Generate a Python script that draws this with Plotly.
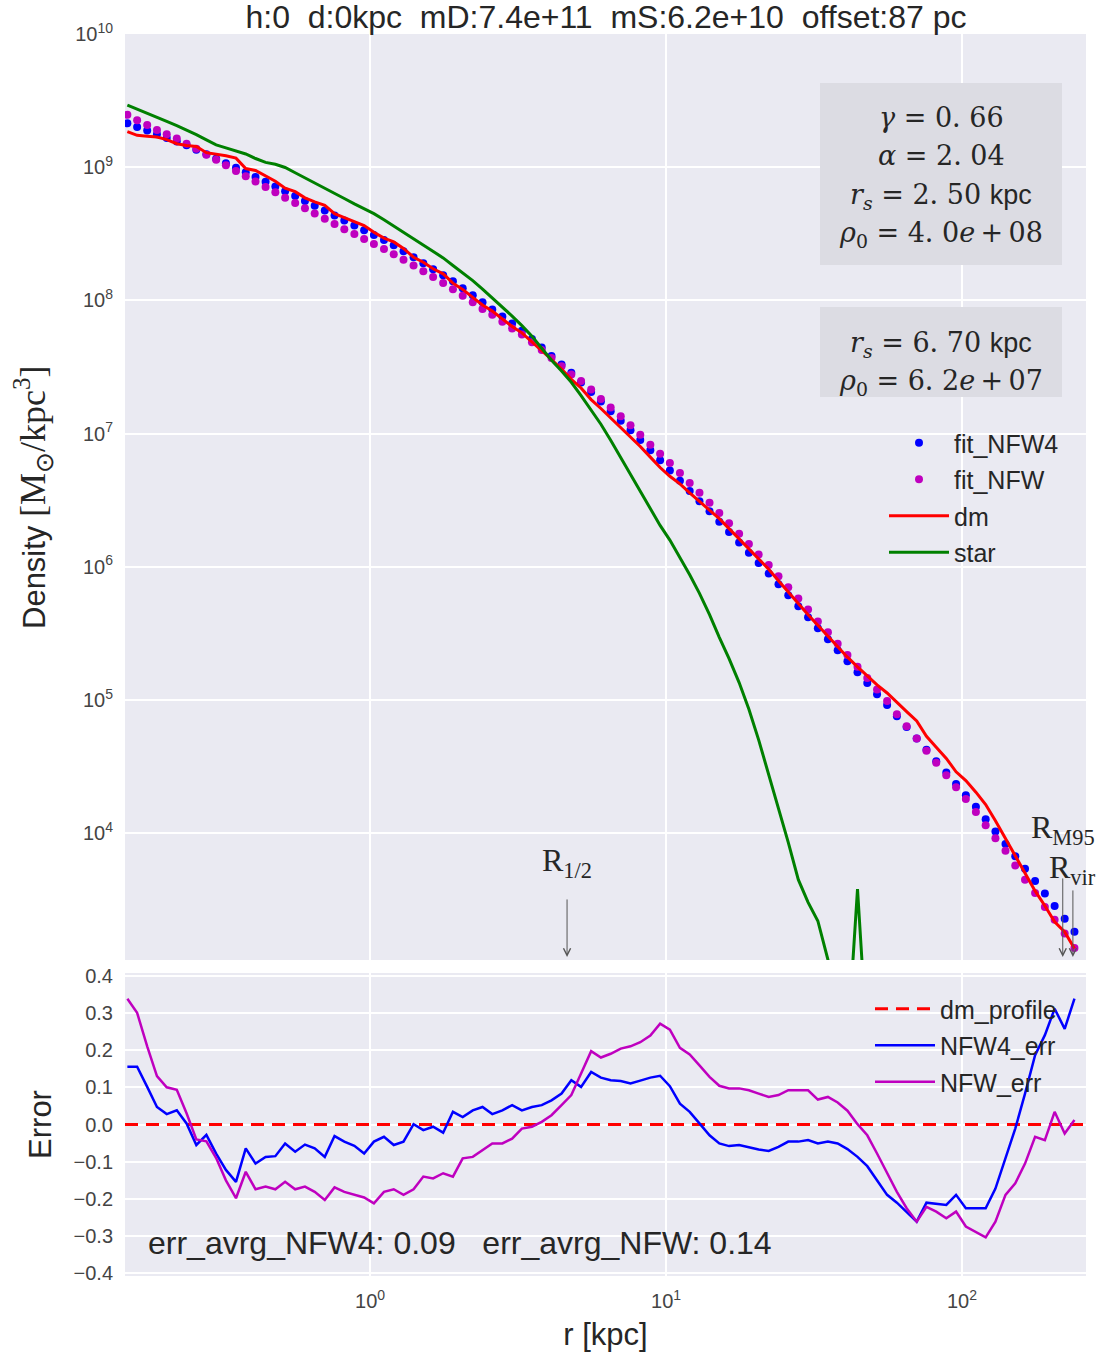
import math
import plotly.graph_objects as go
from plotly.subplots import make_subplots

# ---------------- data ----------------
# log10 of radius [kpc] of each bin
log_r = [
    -0.820, -0.787, -0.753, -0.720, -0.687, -0.653, -0.620, -0.587, -0.553, -0.520,
    -0.487, -0.453, -0.420, -0.387, -0.353, -0.320, -0.287, -0.253, -0.220, -0.187,
    -0.153, -0.120, -0.087, -0.053, -0.020, 0.013, 0.047, 0.080, 0.113, 0.147,
    0.180, 0.213, 0.247, 0.280, 0.313, 0.347, 0.380, 0.413, 0.447, 0.480,
    0.513, 0.547, 0.580, 0.613, 0.647, 0.680, 0.713, 0.747, 0.780, 0.813,
    0.847, 0.880, 0.913, 0.947, 0.980, 1.013, 1.047, 1.080, 1.113, 1.147,
    1.180, 1.213, 1.247, 1.280, 1.313, 1.347, 1.380, 1.413, 1.447, 1.480,
    1.513, 1.547, 1.580, 1.613, 1.647, 1.680, 1.713, 1.747, 1.780, 1.813,
    1.847, 1.880, 1.913, 1.947, 1.980, 2.013, 2.047, 2.080, 2.113, 2.147,
    2.180, 2.213, 2.247, 2.280, 2.313, 2.347, 2.380,
]

# log10 density [Msun/kpc^3]
log_fit_nfw4 = [
    9.330, 9.302, 9.275, 9.247, 9.219, 9.192, 9.164, 9.131, 9.097, 9.063,
    9.029, 8.995, 8.961, 8.927, 8.891, 8.855, 8.819, 8.783, 8.746, 8.710,
    8.674, 8.637, 8.600, 8.563, 8.527, 8.490, 8.453, 8.414, 8.369, 8.324,
    8.279, 8.234, 8.189, 8.144, 8.091, 8.038, 7.985, 7.932, 7.879, 7.826,
    7.772, 7.709, 7.646, 7.583, 7.519, 7.456, 7.384, 7.312, 7.240, 7.168,
    7.096, 7.024, 6.952, 6.875, 6.799, 6.722, 6.646, 6.569, 6.492, 6.416,
    6.338, 6.260, 6.182, 6.105, 6.027, 5.949, 5.868, 5.786, 5.703, 5.621,
    5.538, 5.456, 5.373, 5.291, 5.208, 5.126, 5.043, 4.961, 4.878, 4.796,
    4.711, 4.625, 4.540, 4.455, 4.369, 4.284, 4.197, 4.104, 4.011, 3.918,
    3.826, 3.733, 3.640, 3.547, 3.452, 3.356, 3.260,
]

log_fit_nfw = [
    9.394, 9.353, 9.316, 9.280, 9.248, 9.215, 9.176, 9.138, 9.093, 9.055,
    9.015, 8.972, 8.931, 8.892, 8.852, 8.811, 8.770, 8.731, 8.691, 8.652,
    8.613, 8.573, 8.534, 8.498, 8.460, 8.423, 8.386, 8.347, 8.305, 8.262,
    8.219, 8.175, 8.130, 8.083, 8.035, 7.985, 7.936, 7.892, 7.840, 7.789,
    7.743, 7.686, 7.627, 7.567, 7.506, 7.443, 7.395, 7.330, 7.260, 7.195,
    7.129, 7.062, 6.990, 6.916, 6.849, 6.778, 6.703, 6.629, 6.555, 6.481,
    6.404, 6.326, 6.247, 6.171, 6.092, 6.012, 5.928, 5.845, 5.762, 5.678,
    5.589, 5.508, 5.421, 5.337, 5.248, 5.165, 5.078, 4.991, 4.893, 4.802,
    4.711, 4.618, 4.528, 4.435, 4.344, 4.255, 4.159, 4.058, 3.962, 3.867,
    3.756, 3.650, 3.551, 3.445, 3.349, 3.246, 3.138,
]

log_dm = [
    9.267, 9.239, 9.233, 9.227, 9.207, 9.176, 9.163, 9.156, 9.109, 9.098,
    9.086, 9.068, 8.990, 8.975, 8.931, 8.894, 8.842, 8.816, 8.770, 8.739,
    8.714, 8.651, 8.621, 8.589, 8.562, 8.511, 8.468, 8.439, 8.390, 8.324,
    8.286, 8.237, 8.199, 8.129, 8.082, 8.022, 7.965, 7.920, 7.863, 7.804,
    7.756, 7.689, 7.624, 7.556, 7.484, 7.407, 7.342, 7.255, 7.188, 7.119,
    7.048, 6.979, 6.903, 6.823, 6.745, 6.679, 6.622, 6.554, 6.491, 6.429,
    6.361, 6.286, 6.207, 6.133, 6.057, 5.981, 5.895, 5.807, 5.724, 5.640,
    5.561, 5.477, 5.396, 5.321, 5.248, 5.178, 5.113, 5.052, 4.980, 4.912,
    4.842, 4.727, 4.644, 4.561, 4.460, 4.394, 4.307, 4.214, 4.093, 3.958,
    3.831, 3.698, 3.566, 3.454, 3.334, 3.257, 3.133,
]

log_star = [
    9.466, 9.437, 9.408, 9.377, 9.344, 9.312, 9.280, 9.245, 9.205, 9.168,
    9.145, 9.124, 9.099, 9.065, 9.036, 9.022, 8.998, 8.958, 8.920, 8.883,
    8.847, 8.808, 8.765, 8.724, 8.688, 8.651, 8.606, 8.558, 8.511, 8.464,
    8.417, 8.371, 8.319, 8.262, 8.206, 8.148, 8.085, 8.019, 7.955, 7.882,
    7.810, 7.730, 7.640, 7.550, 7.470, 7.385, 7.285, 7.180, 7.070, 6.950,
    6.820, 6.690, 6.560, 6.430, 6.310, 6.200, 6.070, 5.940, 5.800, 5.640,
    5.470, 5.310, 5.130, 4.930, 4.700, 4.440, 4.180, 3.930, 3.650, 3.480,
    3.340, 3.050, 2.700, 2.400, 3.580, 2.400, None, None, None, None,
    None, None, None, None, None, None, None, None, None, None,
    None, None, None, None, None, None, None,
]

# relative errors of the fits
err_nfw4 = [
    0.155, 0.155, 0.101, 0.047, 0.028, 0.038, 0.003, -0.055, -0.028, -0.078,
    -0.122, -0.154, -0.064, -0.105, -0.087, -0.085, -0.051, -0.073, -0.054, -0.064,
    -0.087, -0.031, -0.046, -0.057, -0.078, -0.046, -0.033, -0.055, -0.046, 0.001,
    -0.015, -0.006, -0.022, 0.034, 0.020, 0.038, 0.047, 0.028, 0.038, 0.052,
    0.038, 0.047, 0.052, 0.065, 0.083, 0.119, 0.101, 0.141, 0.126, 0.119,
    0.117, 0.110, 0.118, 0.126, 0.131, 0.103, 0.056, 0.034, 0.003, -0.029,
    -0.051, -0.058, -0.055, -0.062, -0.067, -0.071, -0.060, -0.046, -0.046, -0.042,
    -0.051, -0.046, -0.051, -0.066, -0.087, -0.112, -0.149, -0.189, -0.210, -0.234,
    -0.261, -0.210, -0.212, -0.216, -0.189, -0.225, -0.225, -0.225, -0.172, -0.087,
    -0.011, 0.083, 0.186, 0.240, 0.311, 0.257, 0.338,
]

err_nfw = [
    0.338, 0.300, 0.210, 0.130, 0.100, 0.093, 0.030, -0.040, -0.045, -0.090,
    -0.150, -0.198, -0.127, -0.174, -0.167, -0.174, -0.154, -0.174, -0.167, -0.181,
    -0.203, -0.169, -0.181, -0.189, -0.196, -0.212, -0.181, -0.174, -0.189, -0.174,
    -0.140, -0.145, -0.131, -0.140, -0.091, -0.087, -0.069, -0.051, -0.051, -0.038,
    -0.011, -0.006, 0.007, 0.025, 0.052, 0.079, 0.137, 0.197, 0.180, 0.190,
    0.204, 0.210, 0.221, 0.239, 0.271, 0.255, 0.206, 0.188, 0.159, 0.128,
    0.104, 0.097, 0.097, 0.092, 0.083, 0.074, 0.079, 0.092, 0.092, 0.092,
    0.067, 0.074, 0.059, 0.037, 0.001, -0.029, -0.078, -0.131, -0.181, -0.225,
    -0.261, -0.221, -0.234, -0.252, -0.234, -0.274, -0.288, -0.303, -0.261, -0.189,
    -0.158, -0.105, -0.033, -0.042, 0.034, -0.024, 0.012,
]

# fit parameters and characteristic radii
nfw4_gamma, nfw4_alpha, nfw4_rs, nfw4_rho0 = 0.66, 2.04, 2.50, "4.0e+08"
nfw_rs, nfw_rho0 = 6.70, "6.2e+07"
err_avrg_nfw4, err_avrg_nfw = 0.09, 0.14
R_half, R_M95, R_vir = 4.63, 219.0, 237.0
title_text = "h:0  d:0kpc  mD:7.4e+11  mS:6.2e+10  offset:87 pc"

# ---------------- figure ----------------
r_kpc = [10 ** v for v in log_r]


def to_lin(arr):
    return [None if v is None else 10 ** v for v in arr]


X_RANGE = [-0.828, 2.419]
Y1_RANGE = [3.047, 10.0]
Y2_RANGE = [-0.407, 0.407]

W, H = 1116, 1357
ML, MR, MT, MB = 125, 30, 34, 81
PW, PH = W - ML - MR, H - MT - MB


def px(xp):
    return (xp - ML) / PW


def py(yp):
    return (H - MB - yp) / PH


def y_log_at(yp):
    # log10 density at a pixel row of the top panel
    return 9 - (yp - 167) / 133.2


SANS = "Liberation Sans, Arial, sans-serif"
SERIF = "Liberation Serif, Times New Roman, serif"
MATH = "DejaVu Serif, Liberation Serif, serif"
TXT = "#262626"
THIN = "\u2009"

fig = make_subplots(rows=2, cols=1, shared_xaxes=True)

fig.add_trace(go.Scatter(x=r_kpc, y=to_lin(log_fit_nfw4), mode="markers", name="fit_NFW4",
                         marker=dict(color="#0000FF", size=8), legend="legend", legendgroup="a"),
              row=1, col=1)
fig.add_trace(go.Scatter(x=r_kpc, y=to_lin(log_fit_nfw), mode="markers", name="fit_NFW",
                         marker=dict(color="#BF00BF", size=8), legend="legend", legendgroup="b"),
              row=1, col=1)
fig.add_trace(go.Scatter(x=r_kpc, y=to_lin(log_dm), mode="lines", name="dm",
                         line=dict(color="#FF0000", width=3), legend="legend", legendgroup="c"),
              row=1, col=1)
fig.add_trace(go.Scatter(x=r_kpc, y=to_lin(log_star), mode="lines", name="star",
                         line=dict(color="#008000", width=3), legend="legend", legendgroup="d",
                         connectgaps=False),
              row=1, col=1)

fig.add_trace(go.Scatter(x=[10 ** X_RANGE[0], 10 ** X_RANGE[1]], y=[0, 0], mode="lines",
                         name="dm_profile", line=dict(color="#FF0000", width=3, dash="13px,8px"),
                         legend="legend2", legendgroup="e"),
              row=2, col=1)
fig.add_trace(go.Scatter(x=r_kpc, y=err_nfw4, mode="lines", name="NFW4_err",
                         line=dict(color="#0000FF", width=2.5), legend="legend2", legendgroup="f"),
              row=2, col=1)
fig.add_trace(go.Scatter(x=r_kpc, y=err_nfw, mode="lines", name="NFW_err",
                         line=dict(color="#BF00BF", width=2.5), legend="legend2", legendgroup="g"),
              row=2, col=1)

axis_common = dict(showgrid=True, gridcolor="white", gridwidth=1.5, zeroline=False,
                   showline=False, ticks="outside", ticklen=7, tickcolor="rgba(0,0,0,0)",
                   tickfont=dict(family=SANS, size=20, color="#444444"))

fig.update_xaxes(type="log", range=X_RANGE, tickvals=[1, 10, 100],
                 ticktext=["10<sup>0</sup>", "10<sup>1</sup>", "10<sup>2</sup>"], **axis_common)
fig.update_xaxes(showticklabels=False, row=1, col=1)
fig.update_xaxes(title=dict(text="r [kpc]", font=dict(family=SANS, size=31, color=TXT), standoff=12),
                 row=2, col=1)

y_ticks = [1e4, 1e5, 1e6, 1e7, 1e8, 1e9, 1e10]
fig.update_yaxes(type="log", range=Y1_RANGE, domain=[(H - MB - 960) / PH, 1.0],
                 tickvals=y_ticks, ticktext=["10<sup>%d</sup>" % p for p in range(4, 11)],
                 row=1, col=1, **axis_common)
fig.update_yaxes(range=Y2_RANGE, domain=[0.0, (H - MB - 973) / PH], dtick=0.1, tick0=0,
                 tickformat=".1f",
                 title=dict(text="Error", font=dict(family=SANS, size=31, color=TXT), standoff=12),
                 row=2, col=1, **axis_common)


def fmt(v):
    return ("%.2f" % v).replace(".", ". ")


def fmt_e(s):
    return s.replace(".", ". ").replace("e+", "<i>e</i>" + THIN + "+" + THIN)


KPC = "<span style='font-family:Liberation Sans'>kpc</span>"
box1_lines = [
    "<i>γ</i> = %s" % fmt(nfw4_gamma),
    "<i>α</i> = %s" % fmt(nfw4_alpha),
    "<i>r<sub>s</sub></i> = %s %s" % (fmt(nfw4_rs), KPC),
    "<i>ρ</i><sub>0</sub> = %s" % fmt_e(nfw4_rho0),
]
box2_lines = [
    "<i>r<sub>s</sub></i> = %s %s" % (fmt(nfw_rs), KPC),
    "<i>ρ</i><sub>0</sub> = %s" % fmt_e(nfw_rho0),
]

shapes = [
    dict(type="rect", xref="paper", yref="paper", x0=px(820), x1=px(1062), y0=py(265), y1=py(83),
         fillcolor="#DCDCE3", line=dict(width=0), layer="above"),
    dict(type="rect", xref="paper", yref="paper", x0=px(820), x1=px(1062), y0=py(397), y1=py(307),
         fillcolor="#DCDCE3", line=dict(width=0), layer="above"),
]

annotations = []
for txt, yline in zip(box1_lines + box2_lines, [118, 155, 193, 231, 341, 379]):
    has_sub = "<sub>" in txt
    annotations.append(dict(text=txt, xref="paper", yref="paper", x=px(941), y=py(yline + (3 if has_sub else 0)),
                            xanchor="center", yanchor="middle", showarrow=False,
                            font=dict(family=MATH, size=27, color=TXT)))

# y-axis title of the density panel
annotations.append(dict(
    text="Density <span style='font-family:Liberation Serif;font-size:36px'>[M<sub>⊙</sub>/kpc<sup>3</sup>]</span>",
    xref="paper", yref="paper", x=px(33), y=py(497), xanchor="center", yanchor="middle",
    textangle=-90, showarrow=False, font=dict(family=SANS, size=31, color=TXT)))

annotations.append(dict(text="err_avrg_NFW4: %.2f   err_avrg_NFW: %.2f" % (err_avrg_nfw4, err_avrg_nfw),
                        xref="paper", yref="paper", x=px(146), y=py(1243), xanchor="left", yanchor="middle",
                        showarrow=False, font=dict(family=SANS, size=32, color=TXT)))

# radius markers (arrows + labels)
arrow_head_y = 3.07
for R, tail in ((R_half, -59), (R_M95, -80), (R_vir, -68)):
    annotations.append(dict(text="", x=math.log10(R), y=arrow_head_y, xref="x", yref="y",
                            ax=0, ay=tail, showarrow=True, arrowhead=5, arrowsize=1.4,
                            arrowwidth=1, arrowcolor="#555555"))
annotations += [
    dict(text="R<sub>1/2</sub>", x=math.log10(R_half), y=y_log_at(862), xref="x", yref="y",
         showarrow=False, font=dict(family=SERIF, size=32, color=TXT)),
    dict(text="R<sub>M95</sub>", x=math.log10(R_M95), y=y_log_at(829), xref="x", yref="y",
         showarrow=False, font=dict(family=SERIF, size=32, color=TXT)),
    dict(text="R<sub>vir</sub>", x=math.log10(R_vir), y=y_log_at(869), xref="x", yref="y",
         showarrow=False, font=dict(family=SERIF, size=32, color=TXT)),
]

fig.update_layout(
    width=W, height=H,
    margin=dict(l=ML, r=MR, t=MT, b=MB),
    paper_bgcolor="white", plot_bgcolor="#EAEAF2",
    font=dict(family=SANS, color=TXT, size=18),
    title=dict(text=title_text, x=px(606), xref="paper", xanchor="center", y=1 - 17 / H, yref="container",
               yanchor="middle", font=dict(family=SANS, size=32, color=TXT)),
    showlegend=True,
    legend=dict(x=px(884), y=py(420), xanchor="left", yanchor="top", bgcolor="rgba(0,0,0,0)",
                font=dict(family=SANS, size=25, color=TXT), tracegroupgap=1, itemwidth=60,
                traceorder="grouped"),
    legend2=dict(x=px(870), y=py(986), xanchor="left", yanchor="top", bgcolor="rgba(0,0,0,0)",
                 font=dict(family=SANS, size=25, color=TXT), tracegroupgap=1, itemwidth=60,
                 traceorder="grouped"),
    shapes=shapes,
    annotations=annotations,
)

fig.write_html("out.html", config={"displayModeBar": False})
